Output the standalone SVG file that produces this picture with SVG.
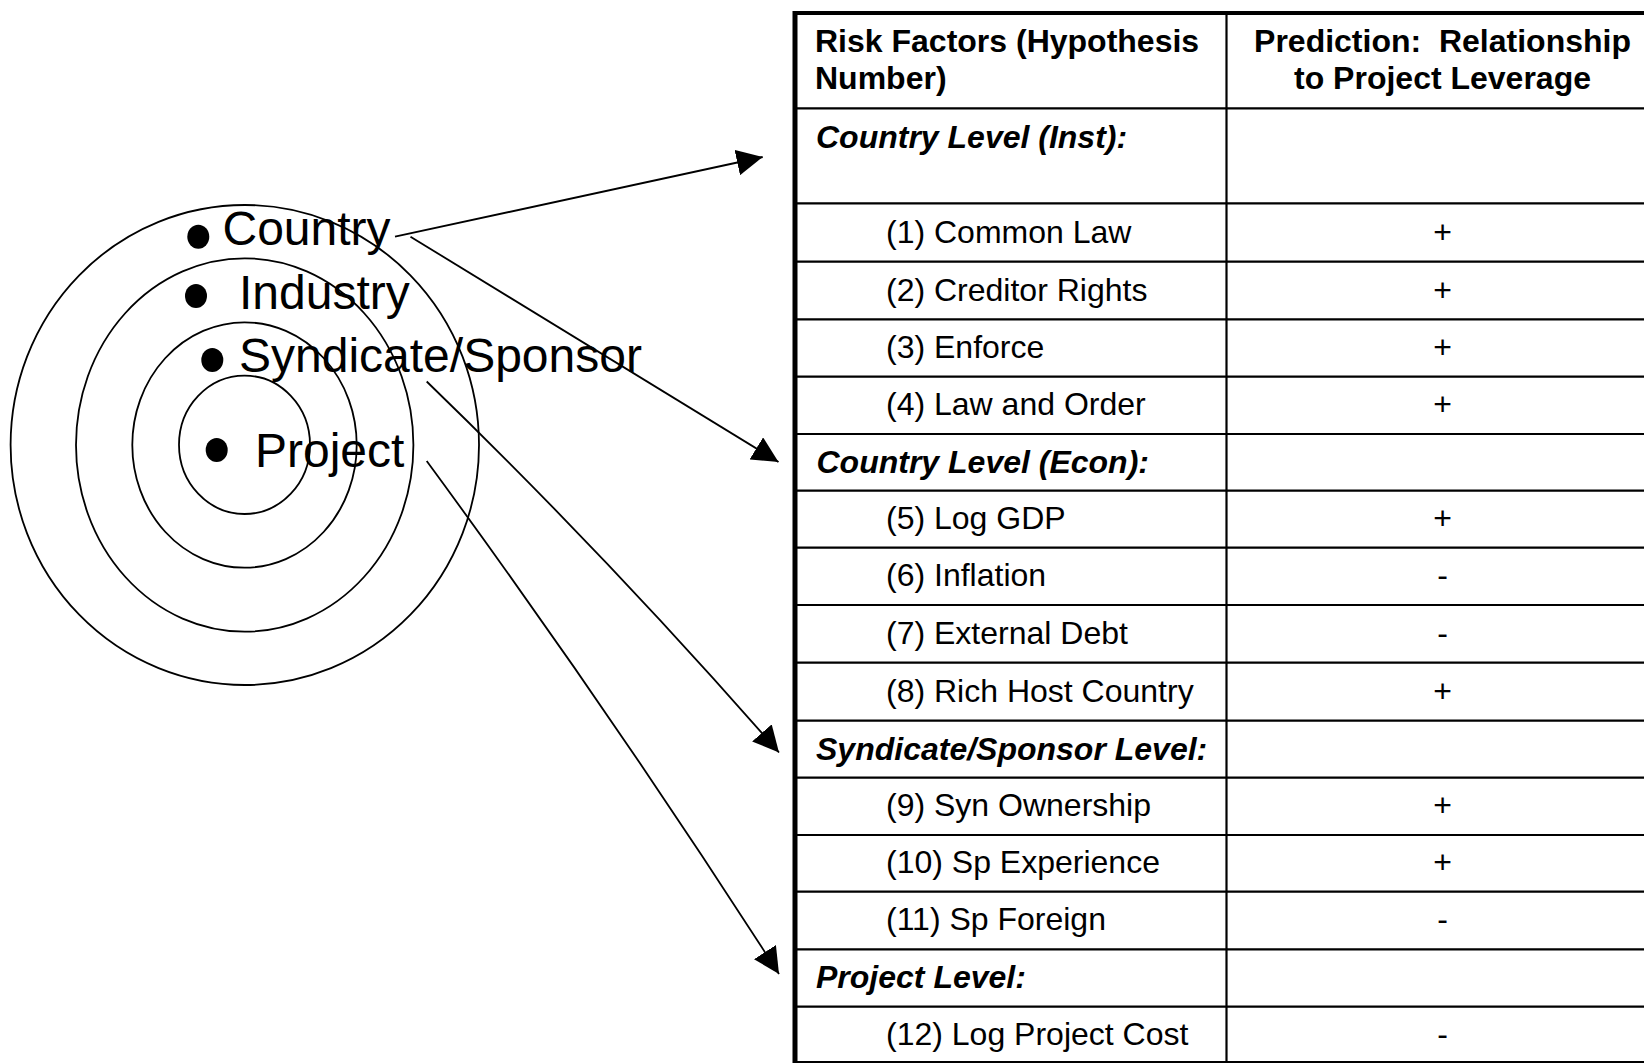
<svg xmlns="http://www.w3.org/2000/svg" width="1644" height="1063" viewBox="0 0 1644 1063">
<style>
.ring{fill:none;stroke:#000;stroke-width:1.8}
.bul{fill:#000}
.lab{font-family:"Liberation Sans",Arial,sans-serif;font-size:48px;fill:#000}
.th{font-family:"Liberation Sans",Arial,sans-serif;font-size:32px;font-weight:bold;fill:#000}
.sec{font-family:"Liberation Sans",Arial,sans-serif;font-size:32px;font-weight:bold;font-style:italic;fill:#000}
.td{font-family:"Liberation Sans",Arial,sans-serif;font-size:32px;fill:#000}
.mid{text-anchor:middle}
.grid{stroke:#000;stroke-width:2.2;fill:none}
.edge{stroke:#000;fill:none}
.conn{fill:none;stroke:#000;stroke-width:1.8}
</style>
<defs>
<marker id="ah" markerUnits="userSpaceOnUse" viewBox="0 0 26 26" markerWidth="26" markerHeight="26" refX="26" refY="13" orient="auto">
<path d="M0,0 L26,13 L0,26 z" fill="#000"/>
</marker>
</defs>
<rect width="1644" height="1063" fill="#fff"/>

<g id="rings">
<g id="ring-country"><ellipse class="ring" cx="244.8" cy="445" rx="234.2" ry="240"/></g>
<g id="ring-industry"><ellipse class="ring" cx="244.7" cy="445" rx="168.7" ry="186.7"/></g>
<g id="ring-syndicate"><ellipse class="ring" cx="244.5" cy="445" rx="112.2" ry="122.7"/></g>
<g id="ring-project"><ellipse class="ring" cx="244.5" cy="444.8" rx="65.5" ry="69.2"/></g>
</g>

<g id="labels">
<g id="label-country"><ellipse class="bul" cx="198.3" cy="236.7" rx="11" ry="12"/><text class="lab" x="222.5" y="245">Country</text></g>
<g id="label-industry"><ellipse class="bul" cx="196" cy="296" rx="11" ry="12"/><text class="lab" x="239" y="308.5">Industry</text></g>
<g id="label-syndicate"><ellipse class="bul" cx="212.3" cy="360" rx="11" ry="12"/><text class="lab" x="239" y="372">Syndicate/Sponsor</text></g>
<g id="label-project"><ellipse class="bul" cx="216.7" cy="450" rx="11" ry="12"/><text class="lab" x="255" y="467">Project</text></g>
</g>

<g id="table">
<g id="table-grid">
<line class="edge" x1="793" y1="13" x2="1644" y2="13" stroke-width="4"/>
<line class="edge" x1="795" y1="11" x2="795" y2="1063" stroke-width="5"/>
<line class="grid" x1="1226.5" y1="13" x2="1226.5" y2="1063"/>
<path class="grid" d="M795,108.3H1644 M795,203.3H1644 M795,261.7H1644 M795,319.3H1644 M795,376.7H1644 M795,434H1644 M795,490.7H1644 M795,547.7H1644 M795,605H1644 M795,662.7H1644 M795,720.7H1644 M795,777.7H1644 M795,835H1644 M795,891.7H1644 M795,949.3H1644 M795,1006.7H1644 M795,1062H1644"/>
</g>
<g id="row-header">
<text class="th" x="815" y="52.3">Risk Factors (Hypothesis</text>
<text class="th" x="815" y="89.3">Number)</text>
<text class="th mid" x="1442.5" y="52.3" xml:space="preserve">Prediction:  Relationship</text>
<text class="th mid" x="1442.5" y="89.3">to Project Leverage</text>
</g>
<g id="row-country-inst"><text class="sec" x="816" y="147.7">Country Level (Inst):</text></g>
<g id="row-1"><text class="td" x="886" y="243">(1) Common Law</text><text class="td mid" x="1442.5" y="243">+</text></g>
<g id="row-2"><text class="td" x="886" y="300.5">(2) Creditor Rights</text><text class="td mid" x="1442.5" y="300.5">+</text></g>
<g id="row-3"><text class="td" x="886" y="357.5">(3) Enforce</text><text class="td mid" x="1442.5" y="357.5">+</text></g>
<g id="row-4"><text class="td" x="886" y="415">(4) Law and Order</text><text class="td mid" x="1442.5" y="415">+</text></g>
<g id="row-country-econ"><text class="sec" x="816.5" y="472.5">Country Level (Econ):</text></g>
<g id="row-5"><text class="td" x="886" y="528.5">(5) Log GDP</text><text class="td mid" x="1442.5" y="528.5">+</text></g>
<g id="row-6"><text class="td" x="886" y="586">(6) Inflation</text><text class="td mid" x="1442.5" y="586">-</text></g>
<g id="row-7"><text class="td" x="886" y="643.5">(7) External Debt</text><text class="td mid" x="1442.5" y="643.5">-</text></g>
<g id="row-8"><text class="td" x="886" y="701.7">(8) Rich Host Country</text><text class="td mid" x="1442.5" y="701.7">+</text></g>
<g id="row-syndicate"><text class="sec" x="816" y="759.5">Syndicate/Sponsor Level:</text></g>
<g id="row-9"><text class="td" x="886" y="816">(9) Syn Ownership</text><text class="td mid" x="1442.5" y="816">+</text></g>
<g id="row-10"><text class="td" x="886" y="873">(10) Sp Experience</text><text class="td mid" x="1442.5" y="873">+</text></g>
<g id="row-11"><text class="td" x="886" y="930">(11) Sp Foreign</text><text class="td mid" x="1442.5" y="930">-</text></g>
<g id="row-project"><text class="sec" x="816" y="987.5">Project Level:</text></g>
<g id="row-12"><text class="td" x="886" y="1044.5">(12) Log Project Cost</text><text class="td mid" x="1442.5" y="1044.5">-</text></g>
</g>

<g id="connectors">
<path class="conn" d="M395,236.7 L762.7,157" marker-end="url(#ah)"/>
<path class="conn" d="M410.5,236.7 L778.5,462" marker-end="url(#ah)"/>
<path class="conn" d="M426.7,381.5 Q611,560 779,752.5" marker-end="url(#ah)"/>
<path class="conn" d="M426.7,461 Q611,712 779,974" marker-end="url(#ah)"/>
</g>
</svg>
